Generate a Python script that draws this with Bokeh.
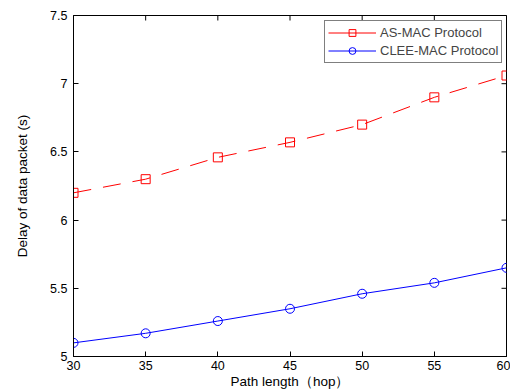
import math
from bokeh.plotting import figure
from bokeh.models import FixedTicker, Legend, LegendItem, Range1d
from bokeh.embed import file_html
from bokeh.resources import INLINE

path_length = [30, 35, 40, 45, 50, 55, 60]
as_mac = [6.20, 6.30, 6.46, 6.57, 6.70, 6.90, 7.06]
clee_mac = [5.10, 5.17, 5.26, 5.35, 5.46, 5.54, 5.65]
x_ticks = [30, 35, 40, 45, 50, 55, 60]
y_ticks = [5, 5.5, 6, 6.5, 7, 7.5]
y_tick_labels = ["5", "5.5", "6", "6.5", "7", "7.5"]
x_min, x_max = 30, 60
y_min, y_max = 5, 7.5

FONT = "Liberation Sans"

p = figure(width=510, height=392, output_backend="svg", toolbar_location=None,
           x_range=Range1d(x_min, x_max), y_range=Range1d(y_min, y_max),
           min_border_left=73, min_border_top=15, min_border_right=4, min_border_bottom=36)
p.xgrid.visible = False
p.ygrid.visible = False
p.outline_line_color = "black"
p.outline_line_width = 1

def style_axis(ax, ticks):
    ax.ticker = FixedTicker(ticks=ticks)
    ax.major_tick_in = 5
    ax.major_tick_out = 0
    ax.minor_tick_in = 0
    ax.minor_tick_out = 0
    ax.axis_line_color = "black"
    ax.major_tick_line_color = "black"
    ax.major_label_text_font = FONT
    ax.major_label_text_font_size = "12.5px"
    ax.major_label_text_color = "black"
    ax.axis_label_text_font = FONT
    ax.axis_label_text_font_size = "13.5px"
    ax.axis_label_text_font_style = "normal"
    ax.axis_label_text_color = "black"

style_axis(p.xaxis[0], x_ticks)
p.xaxis[0].major_label_standoff = 4
p.xaxis[0].axis_label = "Path length（hop）"
p.xaxis[0].axis_label_standoff = 1

style_axis(p.yaxis[0], y_ticks)
p.yaxis[0].major_label_overrides = {t: l for t, l in zip(y_ticks, y_tick_labels)}
p.yaxis[0].major_label_standoff = 6
p.yaxis[0].axis_label = "Delay of data packet (s)"
p.yaxis[0].axis_label_standoff = 17

# inward ticks on the top and right edges of the box (half of each dash is clipped by the frame)
p.scatter(x_ticks, [y_max] * len(x_ticks), marker="dash", size=10, angle=math.pi / 2,
          line_color="black", line_width=1)
p.scatter([x_max] * len(y_ticks), y_ticks, marker="dash", size=10,
          line_color="black", line_width=1)

r1 = p.line(path_length, as_mac, line_color="#ff0000", line_width=1, line_dash="18 12")
s1 = p.scatter(path_length, as_mac, marker="square", size=9, line_color="#ff0000",
               fill_color=None, line_width=1)
r2 = p.line(path_length, clee_mac, line_color="#0000ff", line_width=1)
s2 = p.scatter(path_length, clee_mac, marker="circle", size=9, line_color="#0000ff",
               fill_color=None, line_width=1)

# solid sample line for the legend entry only (no visible data)
leg_line1 = p.line([float("nan")], [float("nan")], line_color="#ff0000", line_width=1)

legend = Legend(items=[
    LegendItem(label="AS-MAC Protocol", renderers=[leg_line1, s1]),
    LegendItem(label="CLEE-MAC Protocol", renderers=[r2, s2]),
], location=(251, 293))
legend.margin = 0
legend.padding = 3
legend.spacing = 1
legend.glyph_width = 48
legend.glyph_height = 17
legend.label_height = 17
legend.label_standoff = 4
legend.label_text_font = FONT
legend.label_text_font_size = "13px"
legend.border_line_color = "black"
legend.border_line_width = 1
legend.background_fill_color = "white"
p.add_layout(legend, "center")

open("out.html", "w").write(file_html(p, INLINE))
